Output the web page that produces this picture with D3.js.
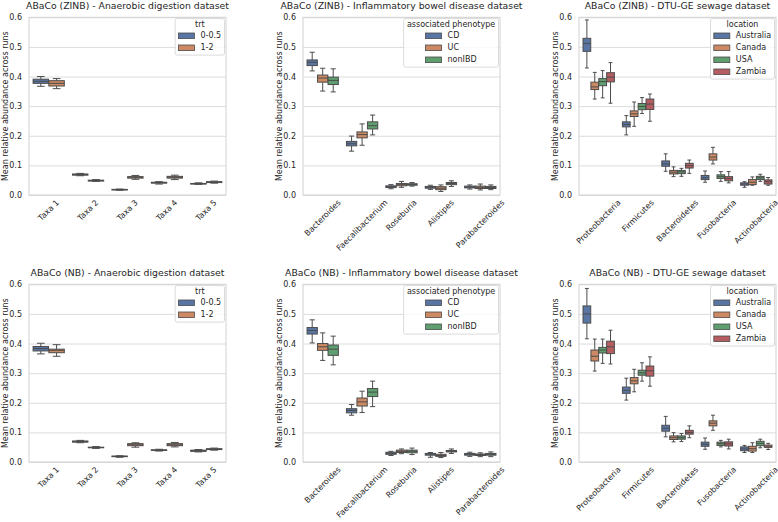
<!DOCTYPE html>
<html>
<head>
<meta charset="utf-8">
<script src="https://cdn.jsdelivr.net/npm/d3@7"></script>
<style>
body { margin: 0; background: #fff; }
text { font-family: "DejaVu Sans", sans-serif; fill: #262626; }
</style>
</head>
<body>
<svg id="chart" width="778" height="522"></svg>
<script>

var plotW = 197,
    plotH = 177.7,
    lineColor = "#4c4c4c";

var yTicks = [0, 0.1, 0.2, 0.3, 0.4, 0.5, 0.6];

/** categories and hue levels **/
var adTaxa = ["Taxa 1", "Taxa 2", "Taxa 3", "Taxa 4", "Taxa 5"];
var adGroups = ["0-0.5", "1-2"];
var ibdGenera = ["Bacteroides", "Faecalibacterium", "Roseburia", "Alistipes", "Parabacteroides"];
var ibdGroups = ["CD", "UC", "nonIBD"];
var dtuPhyla = ["Proteobacteria", "Firmicutes", "Bacteroidetes", "Fusobacteria", "Actinobacteria"];
var dtuGroups = ["Australia", "Canada", "USA", "Zambia"];

var palette = ["#5875a4", "#cc8963", "#5f9e6e", "#b55d60"];

/** box stats: [whisker low, q1, median, q3, whisker high] per category, per hue **/
var zinbAD = [
    [[0.367, 0.377, 0.384, 0.391, 0.400], [0.359, 0.368, 0.377, 0.386, 0.393]],
    [[0.065, 0.067, 0.069, 0.071, 0.073], [0.046, 0.047, 0.049, 0.050, 0.052]],
    [[0.016, 0.017, 0.018, 0.019, 0.020], [0.053, 0.057, 0.060, 0.062, 0.066]],
    [[0.037, 0.040, 0.042, 0.043, 0.045], [0.052, 0.057, 0.060, 0.063, 0.067]],
    [[0.036, 0.037, 0.038, 0.039, 0.041], [0.040, 0.042, 0.043, 0.045, 0.047]]
];

var zinbIBD = [
    [[0.419, 0.437, 0.448, 0.456, 0.482], [0.351, 0.381, 0.395, 0.405, 0.428], [0.348, 0.373, 0.387, 0.398, 0.426]],
    [[0.148, 0.166, 0.173, 0.181, 0.199], [0.168, 0.193, 0.204, 0.213, 0.240], [0.203, 0.223, 0.234, 0.247, 0.270]],
    [[0.021, 0.025, 0.028, 0.031, 0.035], [0.026, 0.031, 0.035, 0.039, 0.046], [0.030, 0.033, 0.036, 0.038, 0.042]],
    [[0.019, 0.023, 0.026, 0.029, 0.033], [0.012, 0.018, 0.023, 0.028, 0.034], [0.029, 0.035, 0.039, 0.042, 0.048]],
    [[0.020, 0.024, 0.027, 0.030, 0.034], [0.017, 0.022, 0.026, 0.030, 0.037], [0.018, 0.022, 0.025, 0.029, 0.034]]
];

var zinbDTU = [
    [[0.429, 0.485, 0.512, 0.529, 0.591], [0.324, 0.356, 0.365, 0.381, 0.414], [0.328, 0.369, 0.383, 0.393, 0.420], [0.310, 0.382, 0.398, 0.413, 0.447]],
    [[0.203, 0.230, 0.238, 0.247, 0.268], [0.232, 0.265, 0.274, 0.284, 0.314], [0.275, 0.288, 0.299, 0.309, 0.329], [0.249, 0.289, 0.307, 0.324, 0.341]],
    [[0.080, 0.097, 0.105, 0.115, 0.139], [0.062, 0.071, 0.077, 0.083, 0.095], [0.063, 0.072, 0.078, 0.083, 0.090], [0.073, 0.091, 0.099, 0.107, 0.118]],
    [[0.043, 0.052, 0.058, 0.066, 0.081], [0.105, 0.118, 0.128, 0.139, 0.161], [0.046, 0.056, 0.062, 0.068, 0.079], [0.041, 0.048, 0.055, 0.062, 0.079]],
    [[0.026, 0.033, 0.037, 0.041, 0.045], [0.033, 0.035, 0.043, 0.052, 0.061], [0.046, 0.052, 0.058, 0.063, 0.070], [0.033, 0.037, 0.045, 0.051, 0.059]]
];

var nbAD = [
    [[0.365, 0.375, 0.383, 0.390, 0.401], [0.357, 0.369, 0.377, 0.381, 0.396]],
    [[0.065, 0.067, 0.069, 0.071, 0.073], [0.046, 0.048, 0.049, 0.050, 0.052]],
    [[0.016, 0.018, 0.019, 0.020, 0.021], [0.050, 0.055, 0.058, 0.062, 0.065]],
    [[0.037, 0.039, 0.040, 0.041, 0.043], [0.051, 0.055, 0.058, 0.062, 0.066]],
    [[0.034, 0.036, 0.038, 0.040, 0.042], [0.040, 0.042, 0.043, 0.045, 0.047]]
];

var nbIBD = [
    [[0.402, 0.432, 0.444, 0.454, 0.480], [0.343, 0.377, 0.389, 0.400, 0.436], [0.328, 0.360, 0.381, 0.395, 0.425]],
    [[0.158, 0.166, 0.174, 0.180, 0.194], [0.167, 0.189, 0.203, 0.216, 0.239], [0.187, 0.221, 0.236, 0.248, 0.273]],
    [[0.022, 0.026, 0.029, 0.033, 0.036], [0.028, 0.032, 0.036, 0.040, 0.044], [0.025, 0.031, 0.036, 0.040, 0.047]],
    [[0.016, 0.023, 0.027, 0.029, 0.032], [0.015, 0.019, 0.022, 0.026, 0.032], [0.029, 0.034, 0.036, 0.039, 0.044]],
    [[0.019, 0.023, 0.026, 0.029, 0.033], [0.018, 0.022, 0.025, 0.027, 0.031], [0.018, 0.023, 0.026, 0.029, 0.034]]
];

var nbDTU = [
    [[0.416, 0.469, 0.500, 0.527, 0.586], [0.307, 0.341, 0.357, 0.378, 0.415], [0.333, 0.368, 0.378, 0.387, 0.415], [0.331, 0.366, 0.389, 0.408, 0.445]],
    [[0.209, 0.232, 0.242, 0.253, 0.283], [0.237, 0.264, 0.274, 0.285, 0.313], [0.273, 0.293, 0.301, 0.310, 0.335], [0.256, 0.290, 0.308, 0.324, 0.355]],
    [[0.085, 0.104, 0.114, 0.124, 0.154], [0.068, 0.076, 0.082, 0.088, 0.099], [0.069, 0.077, 0.082, 0.088, 0.096], [0.082, 0.094, 0.100, 0.107, 0.122]],
    [[0.043, 0.053, 0.060, 0.067, 0.081], [0.107, 0.122, 0.131, 0.139, 0.158], [0.051, 0.056, 0.062, 0.067, 0.073], [0.044, 0.054, 0.061, 0.068, 0.077]],
    [[0.032, 0.038, 0.044, 0.051, 0.056], [0.032, 0.037, 0.045, 0.053, 0.065], [0.048, 0.055, 0.063, 0.070, 0.077], [0.042, 0.050, 0.050, 0.057, 0.063]]
];

var panels = [
    {title: "ABaCo (ZINB) - Anaerobic digestion dataset", cats: adTaxa, groups: adGroups, legendTitle: "trt", stats: zinbAD, left: 29, top: 17.3},
    {title: "ABaCo (ZINB) - Inflammatory bowel disease dataset", cats: ibdGenera, groups: ibdGroups, legendTitle: "associated phenotype", stats: zinbIBD, left: 303, top: 17.3},
    {title: "ABaCo (ZINB) - DTU-GE sewage dataset", cats: dtuPhyla, groups: dtuGroups, legendTitle: "location", stats: zinbDTU, left: 579, top: 17.3},
    {title: "ABaCo (NB) - Anaerobic digestion dataset", cats: adTaxa, groups: adGroups, legendTitle: "trt", stats: nbAD, left: 29, top: 284.3},
    {title: "ABaCo (NB) - Inflammatory bowel disease dataset", cats: ibdGenera, groups: ibdGroups, legendTitle: "associated phenotype", stats: nbIBD, left: 303, top: 284.3},
    {title: "ABaCo (NB) - DTU-GE sewage dataset", cats: dtuPhyla, groups: dtuGroups, legendTitle: "location", stats: nbDTU, left: 579, top: 284.3}
];

var svg = d3.select("#chart");

function drawPanel(p) {
    var g = svg.append("g")
        .attr("transform", "translate(" + p.left + "," + p.top + ")");

    var x = d3.scaleBand().domain(p.cats).range([0, plotW]);
    var bw = x.bandwidth();
    var hue = d3.scaleBand().domain(p.groups).range([-0.4 * bw, 0.4 * bw]);
    var y = d3.scaleLinear().domain([0, 0.6]).range([plotH, 0]);
    var color = d3.scaleOrdinal().domain(p.groups).range(palette);

    // horizontal grid
    var grid = g.append("g")
        .call(d3.axisLeft(y).tickValues(yTicks).tickSize(-plotW).tickFormat(""));
    grid.select(".domain").remove();
    grid.selectAll("line").attr("stroke", "#dcdcdc").attr("stroke-width", 1);

    g.append("rect")
        .attr("width", plotW)
        .attr("height", plotH)
        .attr("fill", "none")
        .attr("stroke", "#d2d2d2")
        .attr("stroke-width", 1);

    // y axis
    var ya = g.append("g")
        .attr("font-size", null).attr("font-family", null)
        .call(d3.axisLeft(y).tickValues(yTicks).tickSize(0).tickPadding(7).tickFormat(d3.format(".1f")));
    ya.select(".domain").remove();
    ya.selectAll("text").attr("font-size", 8);

    // x axis, labels rotated 45
    var xa = g.append("g")
        .attr("transform", "translate(0," + plotH + ")")
        .call(d3.axisBottom(x).tickSize(0).tickPadding(0));
    xa.attr("font-size", null).attr("font-family", null);
    xa.select(".domain").remove();
    xa.selectAll("text")
        .attr("font-size", 8)
        .each(function(){
            var len = this.getComputedTextLength();
            var off = 3.5 + (len + 8) * 0.3536;
            d3.select(this)
                .attr("y", 0)
                .attr("dy", null)
                .attr("text-anchor", "middle")
                .attr("dominant-baseline", "central")
                .attr("transform", "translate(0," + off + ") rotate(-45)");
        });

    g.append("text")
        .attr("transform", "translate(-24," + (plotH / 2) + ") rotate(-90)")
        .attr("text-anchor", "middle")
        .attr("dominant-baseline", "central")
        .attr("font-size", 8)
        .text("Mean relative abundance across runs");

    g.append("text")
        .attr("x", plotW / 2)
        .attr("y", -8.7)
        .attr("text-anchor", "middle")
        .attr("font-size", 9.3)
        .text(p.title);

    // boxes
    var boxes = [];
    p.cats.forEach(function(c, i){
        p.groups.forEach(function(grp, j){
            boxes.push({cat: c, group: grp, s: p.stats[i][j]});
        });
    });

    var boxW = hue.bandwidth() * 0.98;

    var bx = g.selectAll(".box")
        .data(boxes)
        .enter().append("g")
        .attr("class", "box")
        .attr("transform", function(d){
            return "translate(" + (x(d.cat) + bw / 2 + hue(d.group) + hue.bandwidth() / 2) + ",0)";
        });

    bx.append("line")
        .attr("x1", 0).attr("x2", 0)
        .attr("y1", function(d){ return y(d.s[0]); })
        .attr("y2", function(d){ return y(d.s[1]); })
        .attr("stroke", lineColor);
    bx.append("line")
        .attr("x1", 0).attr("x2", 0)
        .attr("y1", function(d){ return y(d.s[3]); })
        .attr("y2", function(d){ return y(d.s[4]); })
        .attr("stroke", lineColor);
    bx.append("line")
        .attr("x1", -boxW / 4).attr("x2", boxW / 4)
        .attr("y1", function(d){ return y(d.s[0]); })
        .attr("y2", function(d){ return y(d.s[0]); })
        .attr("stroke", lineColor);
    bx.append("line")
        .attr("x1", -boxW / 4).attr("x2", boxW / 4)
        .attr("y1", function(d){ return y(d.s[4]); })
        .attr("y2", function(d){ return y(d.s[4]); })
        .attr("stroke", lineColor);
    bx.append("rect")
        .attr("x", -boxW / 2)
        .attr("width", boxW)
        .attr("y", function(d){ return y(d.s[3]); })
        .attr("height", function(d){ return y(d.s[1]) - y(d.s[3]); })
        .attr("fill", function(d){ return color(d.group); })
        .attr("stroke", lineColor);
    bx.append("line")
        .attr("x1", -boxW / 2).attr("x2", boxW / 2)
        .attr("y1", function(d){ return y(d.s[2]); })
        .attr("y2", function(d){ return y(d.s[2]); })
        .attr("stroke", lineColor);

    // legend, upper right
    var lg = g.append("g");
    var lt = lg.append("text")
        .attr("font-size", 8)
        .attr("text-anchor", "middle")
        .attr("dominant-baseline", "central")
        .text(p.legendTitle);
    var titleW = lt.node().getComputedTextLength();

    var items = lg.selectAll(".item")
        .data(p.groups)
        .enter().append("g")
        .attr("class", "item");
    items.append("rect")
        .attr("width", 16)
        .attr("height", 5.6)
        .attr("y", -2.8)
        .attr("fill", function(d){ return color(d); })
        .attr("stroke", lineColor)
        .attr("stroke-width", 0.8);
    var labels = items.append("text")
        .attr("x", 22)
        .attr("font-size", 8)
        .attr("dominant-baseline", "central")
        .text(function(d){ return d; });
    var maxLab = 0;
    labels.each(function(){ maxLab = Math.max(maxLab, this.getComputedTextLength()); });

    var entryW = 22 + maxLab;
    var contentW = Math.max(titleW, entryW);
    var legW = contentW + 6.6;
    var legH = 5.5 + 11.7 + 12 * (p.groups.length - 1) + 7.3;
    var legX = plotW - 1.5 - legW;
    var legY = 1.3;

    lg.attr("transform", "translate(" + legX + "," + legY + ")");
    lg.insert("rect", ":first-child")
        .attr("width", legW)
        .attr("height", legH)
        .attr("rx", 2)
        .attr("fill", "#fff")
        .attr("fill-opacity", 0.8)
        .attr("stroke", "#d2d2d2")
        .attr("stroke-width", 0.8);
    lt.attr("x", legW / 2).attr("y", 5.5);
    items.attr("transform", function(d, i){
        return "translate(" + ((legW - entryW) / 2) + "," + (5.5 + 11.7 + 12 * i) + ")";
    });
}

panels.forEach(drawPanel);

</script>
</body>
</html>
